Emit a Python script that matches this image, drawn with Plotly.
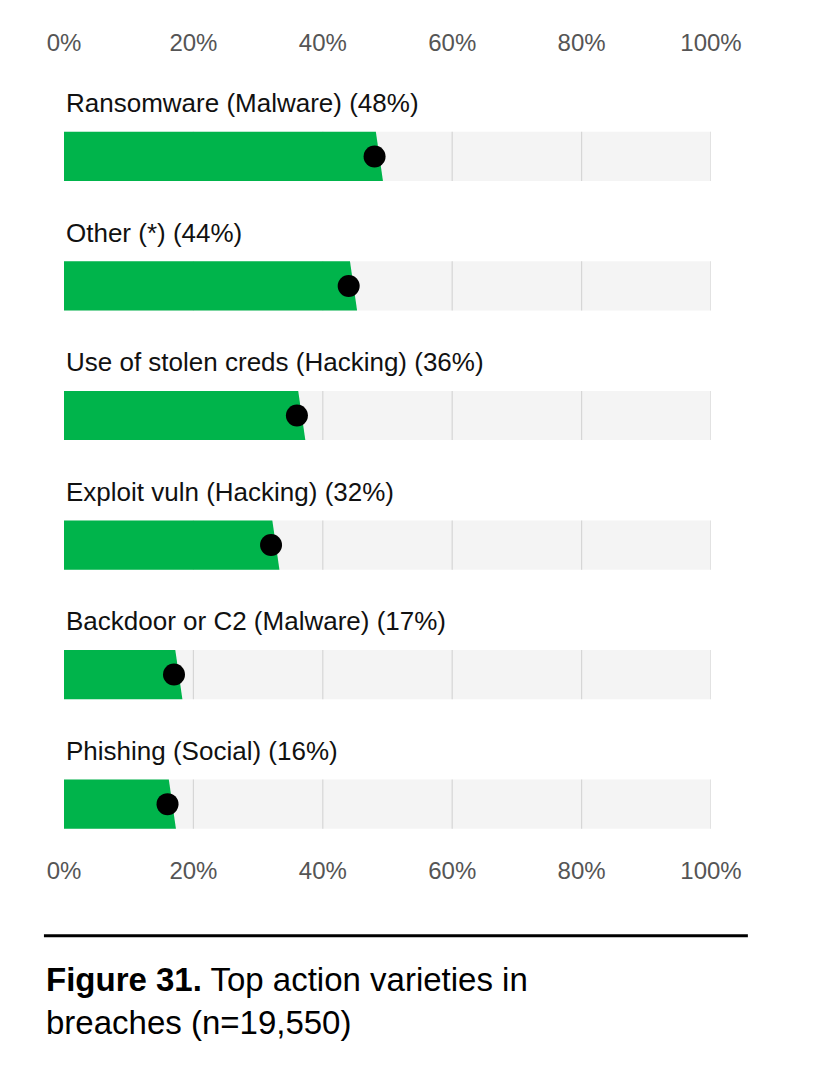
import plotly.graph_objects as go

labels = ["Ransomware (Malware) (48%)", "Other (*) (44%)",
          "Use of stolen creds (Hacking) (36%)", "Exploit vuln (Hacking) (32%)",
          "Backdoor or C2 (Malware) (17%)", "Phishing (Social) (16%)"]
values = [48, 44, 36, 32, 17, 16]
tick_vals = [0, 20, 40, 60, 80, 100]
tick_text = ["0%", "20%", "40%", "60%", "80%", "100%"]

GREEN = "#00b44b"
rows = list(range(len(values)))
bw = 0.38

fig = go.Figure()

shapes = []
for i in rows:
    # grey background track
    shapes.append(dict(type="rect", xref="x", yref="y", x0=0, x1=100,
                       y0=i - bw / 2, y1=i + bw / 2, fillcolor="#f4f4f4",
                       line=dict(width=0), layer="below"))
    for g in tick_vals[1:]:
        shapes.append(dict(type="line", xref="x", yref="y", x0=g, x1=g,
                           y0=i - bw / 2, y1=i + bw / 2,
                           line=dict(color="#d6d6d6", width=1.2), layer="below"))

# green bars with slanted end
for i, v in zip(rows, values):
    fig.add_trace(go.Scatter(
        x=[0, v + 0.2, v + 1.3, 0, 0],
        y=[i - bw / 2, i - bw / 2, i + bw / 2, i + bw / 2, i - bw / 2],
        mode="lines", fill="toself", fillcolor=GREEN,
        line=dict(width=0), hoverinfo="skip", showlegend=False))

fig.add_trace(go.Scatter(x=values, y=rows, mode="markers",
                         marker=dict(color="black", size=22),
                         showlegend=False))
# dummy for top axis
fig.add_trace(go.Scatter(x=[0, 100], y=[0, 0], xaxis="x2", mode="markers",
                         marker=dict(opacity=0), hoverinfo="skip", showlegend=False))

annotations = []
for i, lab in zip(rows, labels):
    annotations.append(dict(x=0, y=i - 0.41, xref="x", yref="y", text=lab,
                            showarrow=False, xanchor="left", yanchor="middle",
                            font=dict(size=26, color="#111")))
annotations.append(dict(x=-0.031, y=-0.150, xref="paper", yref="paper",
                        text="<b>Figure 31.</b> Top action varieties in<br>breaches (n=19,550)",
                        showarrow=False, xanchor="left", yanchor="top", align="left",
                        font=dict(size=33, color="#000")))
shapes.append(dict(type="line", xref="paper", yref="paper", x0=-0.031, x1=1.057,
                   y0=-0.120, y1=-0.120, line=dict(color="black", width=3)))

axis_common = dict(range=[0, 100], tickvals=tick_vals, ticktext=tick_text,
                   showgrid=False, zeroline=False, showline=False,
                   ticks="outside", tickcolor="white",
                   tickfont=dict(size=24, color="#555"), fixedrange=True)
fig.update_layout(
    width=820, height=1092,
    margin=dict(l=56, r=117, t=62, b=257),
    paper_bgcolor="white", plot_bgcolor="white",
    font=dict(family="Liberation Sans, Arial, sans-serif"),
    xaxis=dict(**axis_common, side="bottom", ticklen=6),
    xaxis2=dict(**axis_common, side="top", overlaying="x", ticklen=8),
    yaxis=dict(range=[5.30, -0.667], visible=False, fixedrange=True),
    shapes=shapes, annotations=annotations,
)
fig.write_html("out.html")
